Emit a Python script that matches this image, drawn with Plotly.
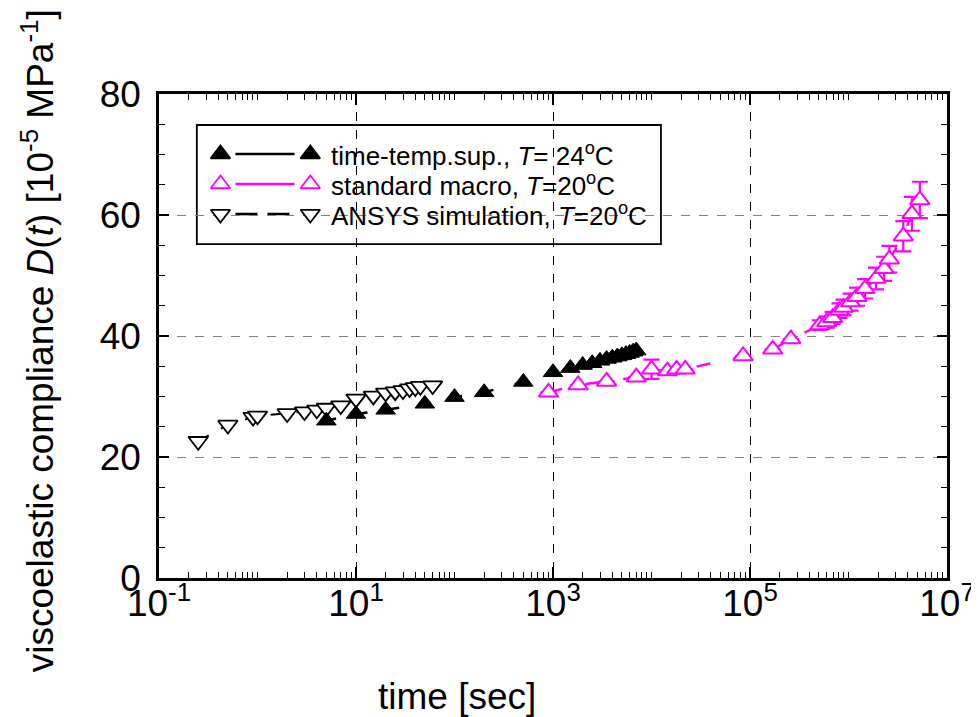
import plotly.graph_objects as go

# ---------------- data ----------------
tts_t = [5, 10, 20, 50, 100, 200, 500, 1000, 1500, 2000, 2500, 3000, 3500,
         4000, 4500, 5000, 5500, 6000, 6500, 7000]
tts_d = [26.0, 27.1, 27.8, 28.8, 29.9, 30.7, 32.4, 34.0, 34.7, 35.2, 35.5,
         35.9, 36.2, 36.4, 36.6, 36.8, 37.0, 37.2, 37.4, 37.6]

mac_t = [900, 1800, 3500, 7000, 10000, 14500, 18000, 22000, 85000, 170000,
         260000, 5.1e5, 6.0e5, 6.9e5, 8.1e5, 8.9e5, 1.05e6, 1.22e6, 1.47e6,
         1.9e6, 2.3e6, 2.6e6, 3.6e6, 4.4e6, 5.3e6]
mac_d = [30.7, 31.9, 32.5, 33.2, 34.5, 34.2, 34.5, 34.5, 36.7, 37.8, 39.5,
         41.8, 42.3, 43.0, 44.2, 44.7, 45.6, 46.5, 47.8, 49.5, 51.1, 52.7,
         56.5, 60.2, 62.5]
mac_err = [0, 0, 0, 0, 1.6, 0, 0, 0, 0, 0, 0, 0.8, 0.9, 1.0, 1.2, 1.3, 1.4,
           1.5, 1.6, 1.8, 2.0, 2.2, 2.5, 2.8, 3.0]

ans_t = [0.25, 0.5, 0.9, 1.0, 2, 3, 4, 5, 7, 10, 15, 20, 25, 30, 35, 40, 45, 60]
ans_d = [22.6, 25.3, 26.6, 26.8, 27.2, 27.5, 27.8, 28.1, 28.5, 29.6, 30.1,
         30.6, 30.8, 31.0, 31.3, 31.5, 31.7, 31.8]

x_tickvals = [0.1, 10, 1000, 1e5, 1e7]
x_ticktext = ["10<sup>-1</sup>", "10<sup>1</sup>", "10<sup>3</sup>",
              "10<sup>5</sup>", "10<sup>7</sup>"]
y_tickvals = [0, 20, 40, 60, 80]

x_title = "time [sec]"
y_title = ("viscoelastic compliance <i>D</i>(<i>t</i>) "
           "[10<sup>-5</sup> MPa<sup>-1</sup>]")
legend_labels = ["time-temp.sup., <i>T</i>= 24<sup>o</sup>C",
                 "standard macro, <i>T</i>=20<sup>o</sup>C",
                 "ANSYS simulation, <i>T</i>=20<sup>o</sup>C"]

FONT = "Liberation Sans, Arial, sans-serif"
MAG = "#FF00FF"
MS = 17

fig = go.Figure()

fig.add_trace(go.Scatter(
    x=ans_t, y=ans_d, mode="lines+markers",
    line=dict(color="black", width=2, dash="12px,14px"),
    marker=dict(symbol="triangle-down", size=MS, color="white",
                line=dict(color="black", width=1.8)),
    showlegend=False))

fig.add_trace(go.Scatter(
    x=tts_t, y=tts_d, mode="lines+markers",
    line=dict(color="black", width=2.5, dash="10px,22px"),
    marker=dict(symbol="triangle-up", size=MS, color="black",
                line=dict(color="black", width=1)),
    showlegend=False))

fig.add_trace(go.Scatter(
    x=mac_t, y=mac_d, mode="lines+markers",
    line=dict(color=MAG, width=2.4, dash="14px,24px"),
    marker=dict(symbol="triangle-up", size=MS, color="white",
                line=dict(color=MAG, width=2)),
    error_y=dict(type="data", array=mac_err, visible=True, color=MAG,
                 thickness=2.2, width=8),
    showlegend=False))

# ---------------- custom legend ----------------
rows = [0.876, 0.814, 0.752]
mx = [0.078, 0.192]
leg_styles = [
    dict(sym="triangle-up", fill="black", edge="black", dash="solid"),
    dict(sym="triangle-up", fill="white", edge=MAG, dash="solid"),
    dict(sym="triangle-down", fill="white", edge="black", dash="22px,10px"),
]
shapes = [dict(type="rect", xref="paper", yref="paper", x0=0.048, x1=0.637,
               y0=0.690, y1=0.936, line=dict(color="black", width=1.8),
               fillcolor="white", layer="between")]
for r, st in zip(rows, leg_styles):
    shapes.append(dict(type="line", xref="paper", yref="paper",
                       x0=0.097, x1=0.172, y0=r, y1=r, layer="between",
                       line=dict(color=st["edge"], width=2.6, dash=st["dash"])))
    fig.add_trace(go.Scatter(
        x=mx, y=[r, r], xaxis="x2", yaxis="y2", mode="markers",
        marker=dict(symbol=st["sym"], size=MS, color=st["fill"],
                    line=dict(color=st["edge"], width=1.8)),
        showlegend=False, hoverinfo="skip"))

annotations = []
for r, lab in zip(rows, legend_labels):
    annotations.append(dict(xref="paper", yref="paper", x=0.216, y=r,
                            xanchor="left", yanchor="middle", text=lab,
                            showarrow=False,
                            font=dict(size=26, color="black", family=FONT)))
annotations.append(dict(xref="paper", yref="paper", x=0.378, y=-0.245,
                        xanchor="center", yanchor="middle", text=x_title,
                        showarrow=False,
                        font=dict(size=37, color="black", family=FONT)))
annotations.append(dict(xref="paper", yref="paper", x=-0.153, y=0.49,
                        xanchor="center", yanchor="middle", text=y_title,
                        textangle=-90, showarrow=False,
                        font=dict(size=37, color="black", family=FONT)))

fig.update_layout(
    width=979, height=717,
    margin=dict(l=151, r=28, t=86, b=147),
    paper_bgcolor="white", plot_bgcolor="white",
    font=dict(family=FONT, color="black", size=37),
    shapes=shapes, annotations=annotations,
    xaxis=dict(type="log", range=[-1, 7], tickvals=x_tickvals,
               ticktext=x_ticktext, ticks="inside", ticklen=11, tickwidth=1.5,
               tickcolor="black", showline=True, linewidth=2.5,
               linecolor="black", mirror="allticks",
               showgrid=True, gridcolor="black", griddash="dash",
               gridwidth=1, zeroline=False, ticklabelstandoff=-9,
               tickfont=dict(size=37),
               minor=dict(ticks="inside", ticklen=6, tickwidth=1.2,
                          tickcolor="black", dtick="D1", showgrid=False)),
    yaxis=dict(range=[0, 80], tickvals=y_tickvals, ticks="inside",
               ticklen=10, tickwidth=1.5, tickcolor="black", showline=True,
               linewidth=2.5, linecolor="black", mirror="allticks",
               showgrid=True, gridcolor="#808080", griddash="dash",
               gridwidth=1, zeroline=False, tickfont=dict(size=37),
               ticklabelstandoff=8,
               minor=dict(ticks="inside", ticklen=6, tickwidth=1.2,
                          tickcolor="black", dtick=5, showgrid=False)),
    xaxis2=dict(overlaying="x", range=[0, 1], visible=False),
    yaxis2=dict(overlaying="y", range=[0, 1], visible=False),
)

fig.write_html("out.html")
